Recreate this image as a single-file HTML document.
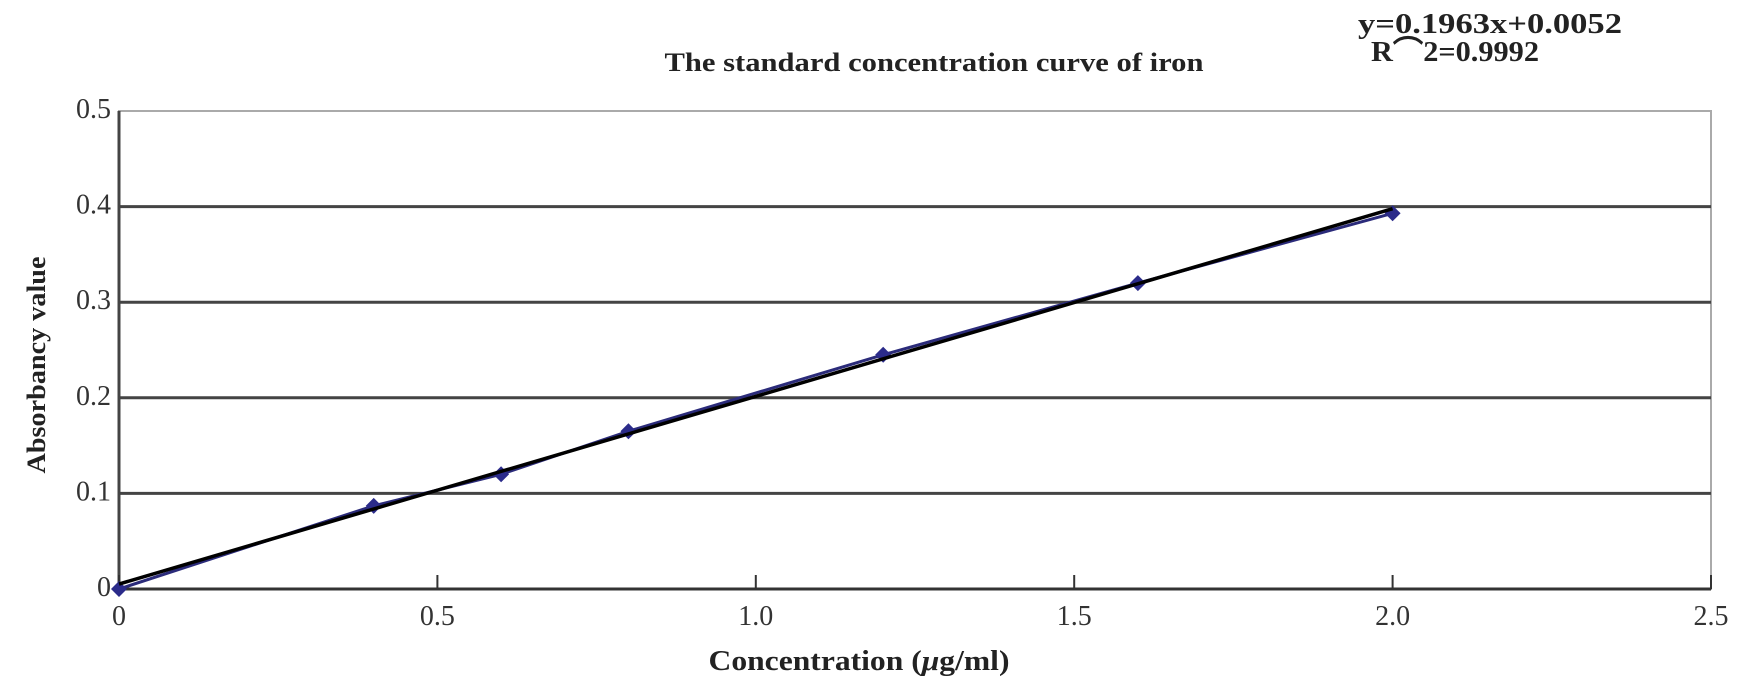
<!DOCTYPE html>
<html><head><meta charset="utf-8"><style>
html,body{margin:0;padding:0;background:#fff;}
svg{display:block;font-family:"Liberation Serif",serif;}
</style></head><body>
<svg width="1748" height="698" viewBox="0 0 1748 698" id="chart">
<text x="934" y="71" text-anchor="middle" font-weight="bold" font-size="26" fill="#222" textLength="539" lengthAdjust="spacingAndGlyphs">The standard concentration curve of iron</text>
<text x="1358" y="33" font-weight="bold" font-size="29" fill="#222" textLength="264" lengthAdjust="spacingAndGlyphs">y=0.1963x+0.0052</text>
<text x="1371" y="61" font-weight="bold" font-size="29" fill="#222" textLength="168" lengthAdjust="spacingAndGlyphs">R⌒2=0.9992</text>
<text transform="translate(45,365) rotate(-90)" text-anchor="middle" font-weight="bold" font-size="26" fill="#222" textLength="217" lengthAdjust="spacingAndGlyphs">Absorbancy value</text>
<text x="859" y="670" text-anchor="middle" font-weight="bold" font-size="28" fill="#222" textLength="301" lengthAdjust="spacingAndGlyphs">Concentration (<tspan font-style="italic">μ</tspan>g/ml)</text>
<g id="grid"></g><g id="axes"></g><g id="series"></g>
</svg>
<script>
const xTicks=[0,0.5,1.0,1.5,2.0,2.5];
const xTickLabels=["0","0.5","1.0","1.5","2.0","2.5"];
const yTicks=[0,0.1,0.2,0.3,0.4,0.5];
const yTickLabels=["0","0.1","0.2","0.3","0.4","0.5"];
const concentration=[0,0.4,0.6,0.8,1.2,1.6,2.0];
const absorbance=[0,0.087,0.12,0.165,0.245,0.32,0.393];
const slope=0.1963, intercept=0.0052;
const NS="http://www.w3.org/2000/svg";
const X0=119,X1=1711,Y0=589,Y1=111;
const sx=v=>X0+(X1-X0)*v/2.5, sy=v=>Y0-(Y0-Y1)*v/0.5;
function mk(tag,attrs,parent){const e=document.createElementNS(NS,tag);for(const k in attrs)e.setAttribute(k,attrs[k]);document.getElementById(parent).appendChild(e);return e;}
let fr=mk('rect',{x:X0,y:Y1,width:X1-X0,height:Y0-Y1,fill:'none',stroke:'#aaa','stroke-width':2},'grid');


yTicks.forEach((v,i)=>{
  if(v>0&&v<0.5){let g=mk('line',{x1:X0,x2:X1,y1:sy(v),y2:sy(v),stroke:'#444','stroke-width':3},'grid');
  
  }
  let t=mk('text',{x:X0-8,y:sy(v)+7,'text-anchor':'end','font-size':28,fill:'#333'},'axes');
  t.textContent=yTickLabels[i];
  
  
});
let ya=mk('line',{x1:X0,x2:X0,y1:Y1,y2:Y0,stroke:'#444','stroke-width':3},'axes');


let xa=mk('line',{x1:X0,x2:X1,y1:Y0,y2:Y0,stroke:'#333','stroke-width':3},'axes');


xTicks.forEach((v,i)=>{
  let tk=mk('line',{x1:sx(v),x2:sx(v),y1:Y0,y2:Y0-14,stroke:'#333','stroke-width':2},'axes');
  
  
  let t=mk('text',{x:sx(v),y:Y0+36,'text-anchor':'middle','font-size':28,fill:'#333'},'axes');
  t.textContent=xTickLabels[i];
  
  
});
let pts=concentration.map((c,i)=>sx(c)+','+sy(absorbance[i])).join(' ');
let dl=mk('polyline',{points:pts,fill:'none',stroke:'#2b2b7a','stroke-width':3},'series');


concentration.forEach((c,i)=>{
  const x=sx(c),y=sy(absorbance[i]),r=8;
  let m=mk('polygon',{points:`${x},${y-r} ${x+r},${y} ${x},${y+r} ${x-r},${y}`,fill:'#2b2b8a'},'series');
  
  
});
const xmin=concentration[0],xmax=concentration[concentration.length-1];
let tl=mk('line',{x1:sx(xmin),y1:sy(slope*xmin+intercept),x2:sx(xmax),y2:sy(slope*xmax+intercept),stroke:'#000','stroke-width':3.5},'series');


</script>
</body></html>
